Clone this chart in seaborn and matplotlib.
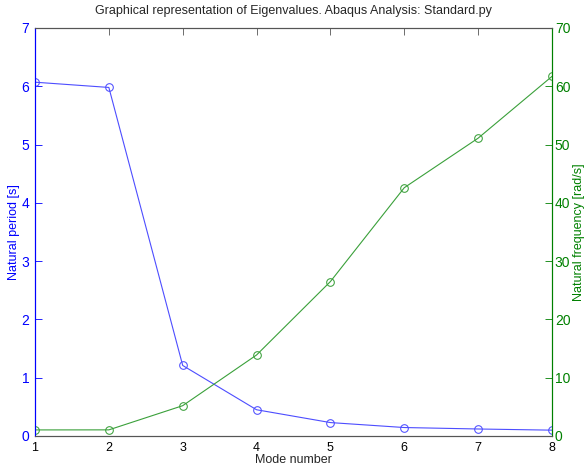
import matplotlib
matplotlib.use("Agg")
import matplotlib.pyplot as plt
import seaborn as sns

modes = [1, 2, 3, 4, 5, 6, 7, 8]
period = [6.07, 5.98, 1.21, 0.45, 0.23, 0.145, 0.12, 0.10]
frequency = [1.04, 1.05, 5.2, 13.9, 26.5, 42.6, 51.1, 61.7]

sns.set_style("white")
plt.rcParams['font.family'] = ['Liberation Sans', 'DejaVu Sans']

blue = "#0000ff"
green = "#008000"
blue_line = "#4d4dff"
green_line = "#3aa03a"

fig = plt.figure(figsize=(5.86, 4.65), dpi=100)
ax = fig.add_axes([0.0597, 0.0624, 0.8823, 0.8774])
ax2 = ax.twinx()

sns.lineplot(x=modes, y=period, ax=ax, color=blue_line, marker='o', markersize=5.5,
             markerfacecolor='none', markeredgecolor=blue_line, linewidth=0.8)
sns.lineplot(x=modes, y=frequency, ax=ax2, color=green_line, marker='o', markersize=5.5,
             markerfacecolor='none', markeredgecolor=green_line, linewidth=0.8)

ax.set_xlim(1, 8)
ax.set_ylim(0, 7)
ax2.set_ylim(0, 70)
ax.set_xticks(modes)
ax.set_yticks(range(0, 8))
ax2.set_yticks(range(0, 71, 10))

for a in (ax, ax2):
    for s in a.spines.values():
        s.set_linewidth(0.8)
    a.spines['top'].set_color('#555555')
    a.spines['bottom'].set_color('#555555')
    a.spines['left'].set_color(blue)
    a.spines['right'].set_color(green)

ax.tick_params(axis='x', direction='in', length=5, width=0.6, colors='#555555', labelcolor='black', labelsize=9, pad=4)
ax.tick_params(axis='y', direction='in', length=5, width=0.6, colors=blue, labelsize=10, pad=4)
ax2.tick_params(axis='y', direction='in', length=5, width=0.6, colors=green, labelsize=10, pad=2)
ax.tick_params(top=True, which='both')

ax.set_xlabel("Mode number", fontsize=9, labelpad=0)
ax.set_ylabel("Natural period [s]", color=blue, fontsize=9, labelpad=1)
ax2.set_ylabel("Natural frequency [rad/s]", color=green, fontsize=9, labelpad=2)
ax.set_title("Graphical representation of Eigenvalues. Abaqus Analysis: Standard.py", fontsize=9, pad=10)

fig.savefig("out.png", dpi=100)
